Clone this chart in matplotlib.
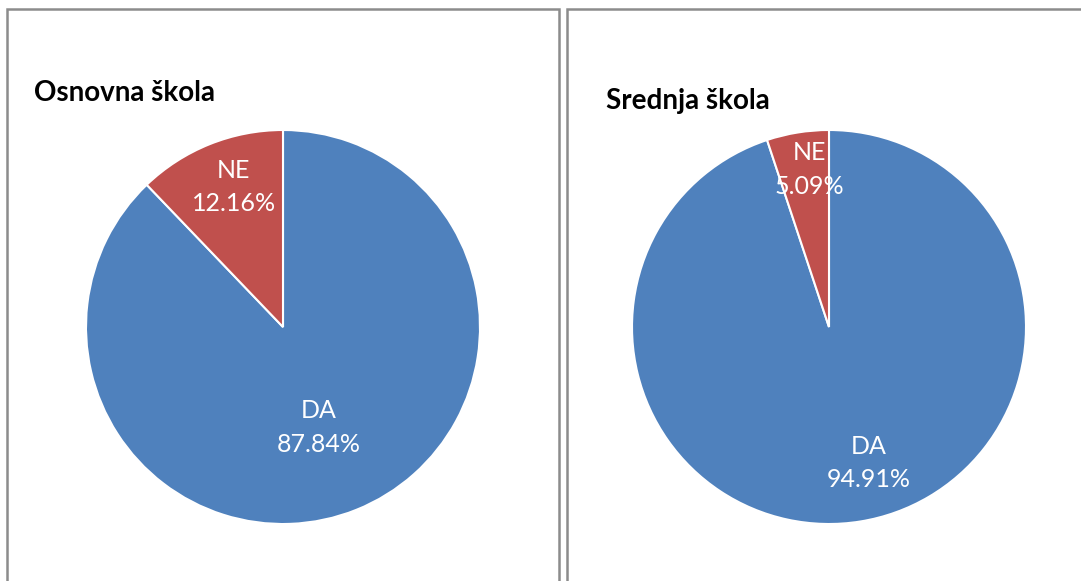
import matplotlib
matplotlib.use("Agg")
from matplotlib import pyplot as plt
from matplotlib.patches import Rectangle

titles = ["Osnovna škola", "Srednja škola"]
categories = ["DA", "NE"]
osnovna = [87.84, 12.16]
srednja = [94.91, 5.09]
series = [osnovna, srednja]

COLOURS = ["#4F81BD", "#C0504D"]
W, H = 1081, 581

# label centres, as fractions of the radius (x, y) from pie centre
label_pos = [
    [(0.18, -0.51), (-0.25, 0.71)],
    [(0.20, -0.69), (-0.10, 0.80)],
]
title_pos = [(34, 93), (606, 101)]
panels = [(7, 559), (567, 1085)]
centres = [(283, 327), (829, 327)]
R = 197

fig = plt.figure(figsize=(W / 100, H / 100), dpi=100)

for (x0, x1) in panels:
    fig.patches.append(Rectangle((x0 / W, -0.05), (x1 - x0) / W, (H + 30 - 10) / H,
                                 transform=fig.transFigure, fill=False,
                                 edgecolor="#8c8c8c", linewidth=1.8))

for i, vals in enumerate(series):
    cx, cy = centres[i]
    ax = fig.add_axes([(cx - R) / W, (H - cy - R) / H, 2 * R / W, 2 * R / H])
    ax.pie(vals, colors=COLOURS, startangle=90, counterclock=False,
           wedgeprops=dict(edgecolor="white", linewidth=1.5))
    ax.set_xlim(-1, 1)
    ax.set_ylim(-1, 1)
    ax.set_aspect("auto")
    ax.axis("off")
    for j, (cat, v) in enumerate(zip(categories, vals)):
        lx, ly = label_pos[i][j]
        ax.text(lx, ly, f"{cat}\n{v:.2f}%", ha="center", va="center", color="white",
                fontsize=18, family="Lato", linespacing=1.55)
    tx, ty = title_pos[i]
    fig.text(tx / W, 1 - ty / H, titles[i], ha="left", va="center",
             fontsize=20, fontweight="bold", family="Lato")

fig.savefig("out.png", dpi=100)
